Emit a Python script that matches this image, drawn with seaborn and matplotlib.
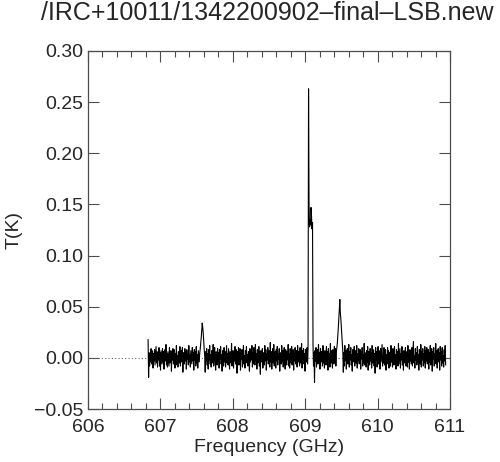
import numpy as np
import pandas as pd
import seaborn as sns
import matplotlib.pyplot as plt

# --- spectrum ---
# channel range (GHz)
freq_start = 606.83
freq_stop = 610.94

# antenna temperature per channel, in mK (600 channels)
temp_mk = [
    18, -19, 5, -8, 3, -4, 9, -6, 1, 7, -10, 4, -3, 8, -7, 2, 11, -5, 6, -9,
    3, -2, 10, -8, 5, -12, 7, 0, -6, 9, -4, 6, -11, 2, 8, -3, 13, -7, 4, -9,
    6, -1, -8, 10, -5, 3, 7, -13, 5, -2, 9, -6, 1, 8, -10, 4, -3, 12, -7, 2,
    -9, 6, 3, -5, 11, -8, 0, 7, -4, 10, -14, 5, 2, -6, 9, -3, 6, -11, 8, -1,
    4, -7, 12, -4, 3, -9, 7, 1, -6, 10, -3, 5, -12, 8, -2, 6, -8, 11, -5, 3,
    -10, 7, 2, -4, 5, 9, 14, 20, 27, 34, 30, 24, 16, 8, 2, -14, 6, -3, 9, -7,
    4, -11, 8, -2, 12, -6, 3, -9, 7, 0, -5, 13, -8, 4, 10, -4, -12, 6, 2, -7,
    9, -3, 5, -10, 8, -1, 11, -6, 3, -13, 7, 2, -8, 10, -4, 6, -9, 1, 12, -5,
    4, -7, 9, -2, -11, 6, 3, -5, 14, -8, 2, 7, -10, 5, -3, 11, -6, 1, 8, -15,
    6, -4, 10, -7, 3, 9, -12, 5, -1, 8, -9, 4, 12, -6, 2, -10, 7, -3, 11, -5,
    3, -8, 6, 1, -13, 9, -4, 7, -2, 12, -9, 5, -6, 10, 0, -7, 13, -3, 4, -11,
    8, -5, 2, 11, -8, 6, -16, 7, 3, -4, 9, -10, 5, 1, -7, 12, -3, 8, -12, 4,
    -2, 10, -6, 3, 7, -9, 15, -4, 6, -11, 2, 9, -5, 13, -8, 1, 6, -10, 8, -3,
    11, -7, 4, -1, 9, -13, 5, 3, -6, 12, -4, 7, -9, 2, 10, -5, -11, 8, 3, -7,
    6, -2, 13, -8, 4, -10, 9, 0, -5, 11, -7, 3, 8, -12, 5, -3, 10, -6, 2, 7,
    -9, 12, -4, 6, -1, -8, 10, -5, 3, 14, -10, 7, -2, 9, -6, 4, -13, 8, 1, -4,
    10, -6, 8, 263, 150, 128, 135, 130, 147, 138, 126, 132, 12, -8, 5, -24, 7, -3, 10, -9,
    4, 8, -6, 13, -2, 5, -11, 9, -4, 6, 1, -8, 12, -5, 3, -10, 7, 2, -7, 11,
    -3, 6, -12, 9, -1, 4, -9, 14, -5, 7, -2, -10, 8, 3, -6, 11, -4, 9, -8, 6,
    10, 15, 22, 30, 40, 48, 57, 44, 38, 30, 22, 14, 6, -14, 5, -8, 12, -3, 7, -11,
    4, 9, -6, 2, 13, -9, 6, -2, 10, -7, 3, -13, 8, 5, -4, 11, -8, 1, 7, -5,
    12, -10, 4, -3, 9, -6, 2, 8, -11, 6, -1, 10, -8, 3, -5, 14, -7, 5, 0, -9,
    7, -4, 11, -12, 6, 2, -7, 9, -3, 5, -10, 12, -5, 1, 8, -8, 4, -15, 10, -2,
    6, -9, 3, 11, -6, 7, -1, -11, 9, -4, 5, 13, -8, 2, -5, 10, -7, 4, 8, -12,
    3, -6, 10, -2, 7, -10, 5, 1, -8, 12, -4, 6, -9, 9, -1, -7, 11, -5, 3, -11,
    8, -3, 6, -8, 14, -6, 2, 9, -10, 4, -2, 11, -7, 5, -12, 7, 0, -5, 10, -8,
    3, 6, -9, 12, -4, 1, -11, 8, -3, 7, -6, 10, -8, 4, 16, -5, 2, -10, 9, -2,
    5, -7, 11, -4, 3, -12, 8, 0, -6, 13, -9, 6, -2, 9, -8, 4, -5, 11, -10, 7,
    -3, 10, -6, 2, 8, -11, 5, -4, 12, -7, 3, 9, -13, 6, -1, 10, -8, 4, -5, 14,
    -6, 7, -10, 3, 9, -4, 5, -12, 11, -2, 6, -8, 10, -5, 2, -9, 8, -3, 12, -7,
]

x_ticks = [606, 607, 608, 609, 610, 611]
y_ticks = [-0.05, 0.00, 0.05, 0.10, 0.15, 0.20, 0.25, 0.30]

title = "/IRC+10011/1342200902\u2013final\u2013LSB.new"

df = pd.DataFrame({
    "freq": np.linspace(freq_start, freq_stop, len(temp_mk)),
    "T": np.array(temp_mk) / 1000.0,
})

sns.set_style("ticks")
plt.rcParams["font.family"] = ["Liberation Sans", "DejaVu Sans"]
plt.rcParams["xtick.direction"] = "in"
plt.rcParams["ytick.direction"] = "in"

fig = plt.figure(figsize=(5, 4.62), dpi=100)
ax = fig.add_axes([0.176, 0.1147, 0.724, 0.775])

# zero baseline
ax.plot([606, 611], [0, 0], color="0.4", ls=(0, (1, 2)), lw=0.8)

sns.lineplot(data=df, x="freq", y="T", ax=ax, color="black", lw=0.8,
             estimator=None, sort=False)

ax.set_xlim(606, 611)
ax.set_ylim(-0.05, 0.30)
ax.set_xticks(x_ticks)
ax.set_xticklabels([str(t) for t in x_ticks])
ax.set_yticks(y_ticks)
ax.set_yticklabels([f"{t:.2f}".replace("-", "\u2212") for t in y_ticks])
ax.set_xticks(np.arange(606, 611.01, 0.2), minor=True)
ax.tick_params(which="both", top=True, right=True, labelsize=14, color="0.3")
ax.tick_params(which="major", length=8, width=0.8)
ax.tick_params(which="minor", length=4, width=0.8)
ax.tick_params(axis="x", which="major", pad=7)
for s in ax.spines.values():
    s.set_color("0.3")
    s.set_linewidth(0.9)

ax.set_xlabel("Frequency (GHz)", fontsize=14, labelpad=2)
ax.set_ylabel("T(K)", fontsize=14, labelpad=8)
fig.text(0.534, 0.972, title, fontsize=18, ha="center", va="center")

fig.savefig("out.png", dpi=100)
